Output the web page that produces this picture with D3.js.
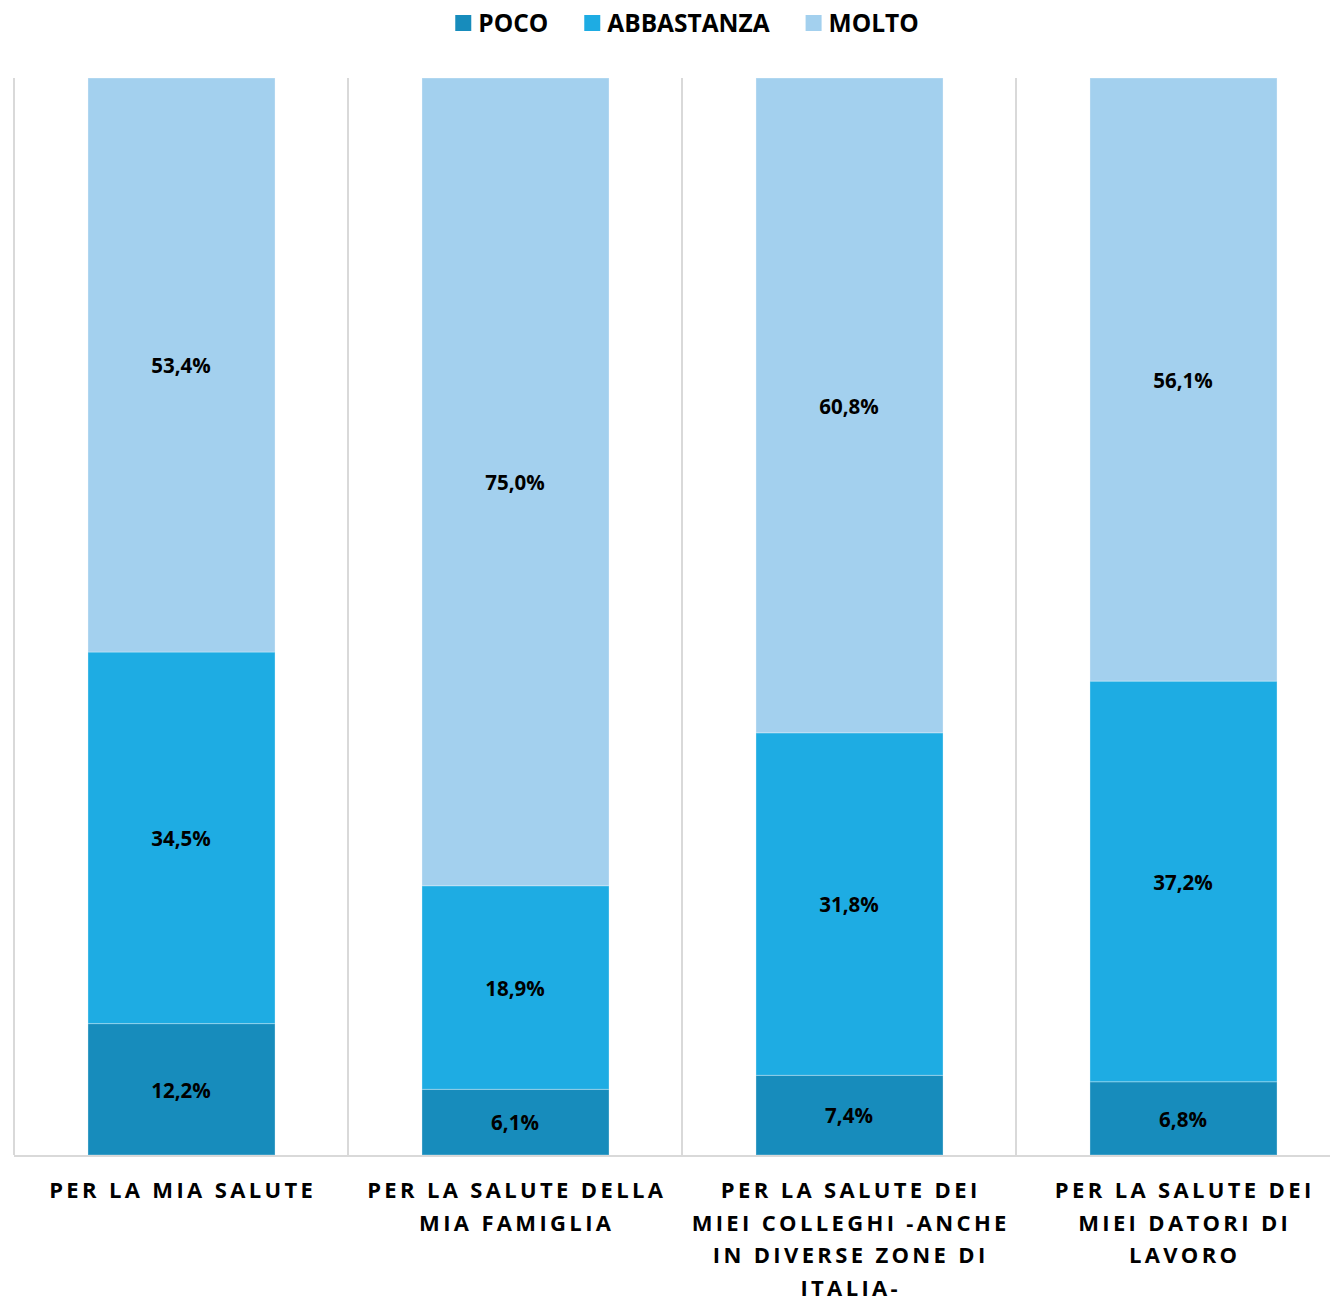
<!DOCTYPE html>
<html>
<head>
<meta charset="utf-8">
<script src="https://cdn.jsdelivr.net/npm/d3@7"></script>
<style>
  html, body { margin: 0; padding: 0; background: #fff; }
  svg { display: block; font-family: "Open Sans", "DejaVu Sans", sans-serif; }
</style>
</head>
<body>
<svg id="chart" width="1330" height="1297"></svg>
<script>
// Categories (line breaks as shown under each bar)
const categories = [
  "PER LA MIA SALUTE",
  "PER LA SALUTE DELLA\nMIA FAMIGLIA",
  "PER LA SALUTE DEI\nMIEI COLLEGHI -ANCHE\nIN DIVERSE ZONE DI\nITALIA-",
  "PER LA SALUTE DEI\nMIEI DATORI DI\nLAVORO"
];
const seriesNames = ["POCO", "ABBASTANZA", "MOLTO"];
const poco       = [12.2, 6.1, 7.4, 6.8];
const abbastanza = [34.5, 18.9, 31.8, 37.2];
const molto      = [53.4, 75.0, 60.8, 56.1];
const colors = ["#178cbc", "#1eace3", "#a3d0ee"];

const svg = d3.select("#chart");
const plot = { left: 14, right: 1350, top: 78, bottom: 1155 };

const x = d3.scaleBand()
  .domain(categories)
  .range([plot.left, plot.right])
  .paddingInner(0.443)
  .paddingOuter(0.2215);

const y = d3.scaleLinear().domain([0, 100]).range([plot.bottom, plot.top]).clamp(true);

const rows = categories.map((c, i) => ({ cat: c, POCO: poco[i], ABBASTANZA: abbastanza[i], MOLTO: molto[i] }));
const stacked = d3.stack().keys(seriesNames)(rows);

// category separators
const step = x.step();
const seps = d3.range(categories.length + 1).map(i => plot.left + i * step);
svg.append("g").selectAll("line").data(seps).join("line")
  .attr("x1", d => d).attr("x2", d => d)
  .attr("y1", plot.top).attr("y2", plot.bottom)
  .attr("stroke", "#d9d9d9").attr("stroke-width", 2);

// stacked bars
const layers = svg.append("g").selectAll("g").data(stacked).join("g")
  .attr("fill", (d, i) => colors[i]);
layers.selectAll("rect").data(d => d).join("rect")
  .attr("x", d => x(d.data.cat))
  .attr("width", x.bandwidth() + 1)
  .attr("y", d => y(d[1]))
  .attr("height", d => y(d[0]) - y(d[1]))
  .attr("stroke", "rgba(255,255,255,0.3)")
  .attr("stroke-width", 1);

// value labels
const fmt = v => v.toFixed(1).replace(".", ",") + "%";
layers.selectAll("text").data(d => d.map(s => ({ s, v: s[1] - s[0] }))).join("text")
  .attr("x", d => x(d.s.data.cat) + x.bandwidth() / 2)
  .attr("y", d => (y(d.s[0]) + y(d.s[1])) / 2)
  .attr("dy", "0.4em")
  .attr("text-anchor", "middle")
  .attr("fill", "#000")
  .attr("font-weight", 700)
  .attr("font-size", 20.5)
  .text(d => fmt(d.v));

// bottom axis line
svg.append("line")
  .attr("x1", plot.left).attr("x2", 1330)
  .attr("y1", plot.bottom + 1).attr("y2", plot.bottom + 1)
  .attr("stroke", "#d9d9d9").attr("stroke-width", 2);

// category labels
const catG = svg.append("g").selectAll("text").data(categories).join("text")
  .attr("text-anchor", "middle")
  .attr("font-weight", 700)
  .attr("font-size", 22)
  .attr("letter-spacing", 3.35)
  .attr("fill", "#000");
catG.each(function(c) {
  const t = d3.select(this);
  c.split("\n").forEach((line, i) => {
    t.append("tspan")
      .attr("x", x(c) + x.bandwidth() / 2 + 1.7)
      .attr("y", 1198 + i * 32.6)
      .text(line);
  });
});

// legend
const legend = svg.append("g");
const items = legend.selectAll("g").data(seriesNames).join("g");
items.append("rect").attr("width", 16).attr("height", 16).attr("y", 15)
  .attr("fill", (d, i) => colors[i]);
items.append("text").attr("x", 23).attr("y", 32)
  .attr("font-weight", 700).attr("font-size", 24.5).attr("fill", "#000")
  .text(d => d);
let cx = 0;
const gap = 36;
items.each(function() {
  const w = 23 + d3.select(this).select("text").node().getComputedTextLength();
  d3.select(this).attr("transform", `translate(${cx},0)`);
  cx += w + gap;
});
const totalW = cx - gap;
legend.attr("transform", `translate(${687 - totalW / 2},0)`);
</script>
</body>
</html>
